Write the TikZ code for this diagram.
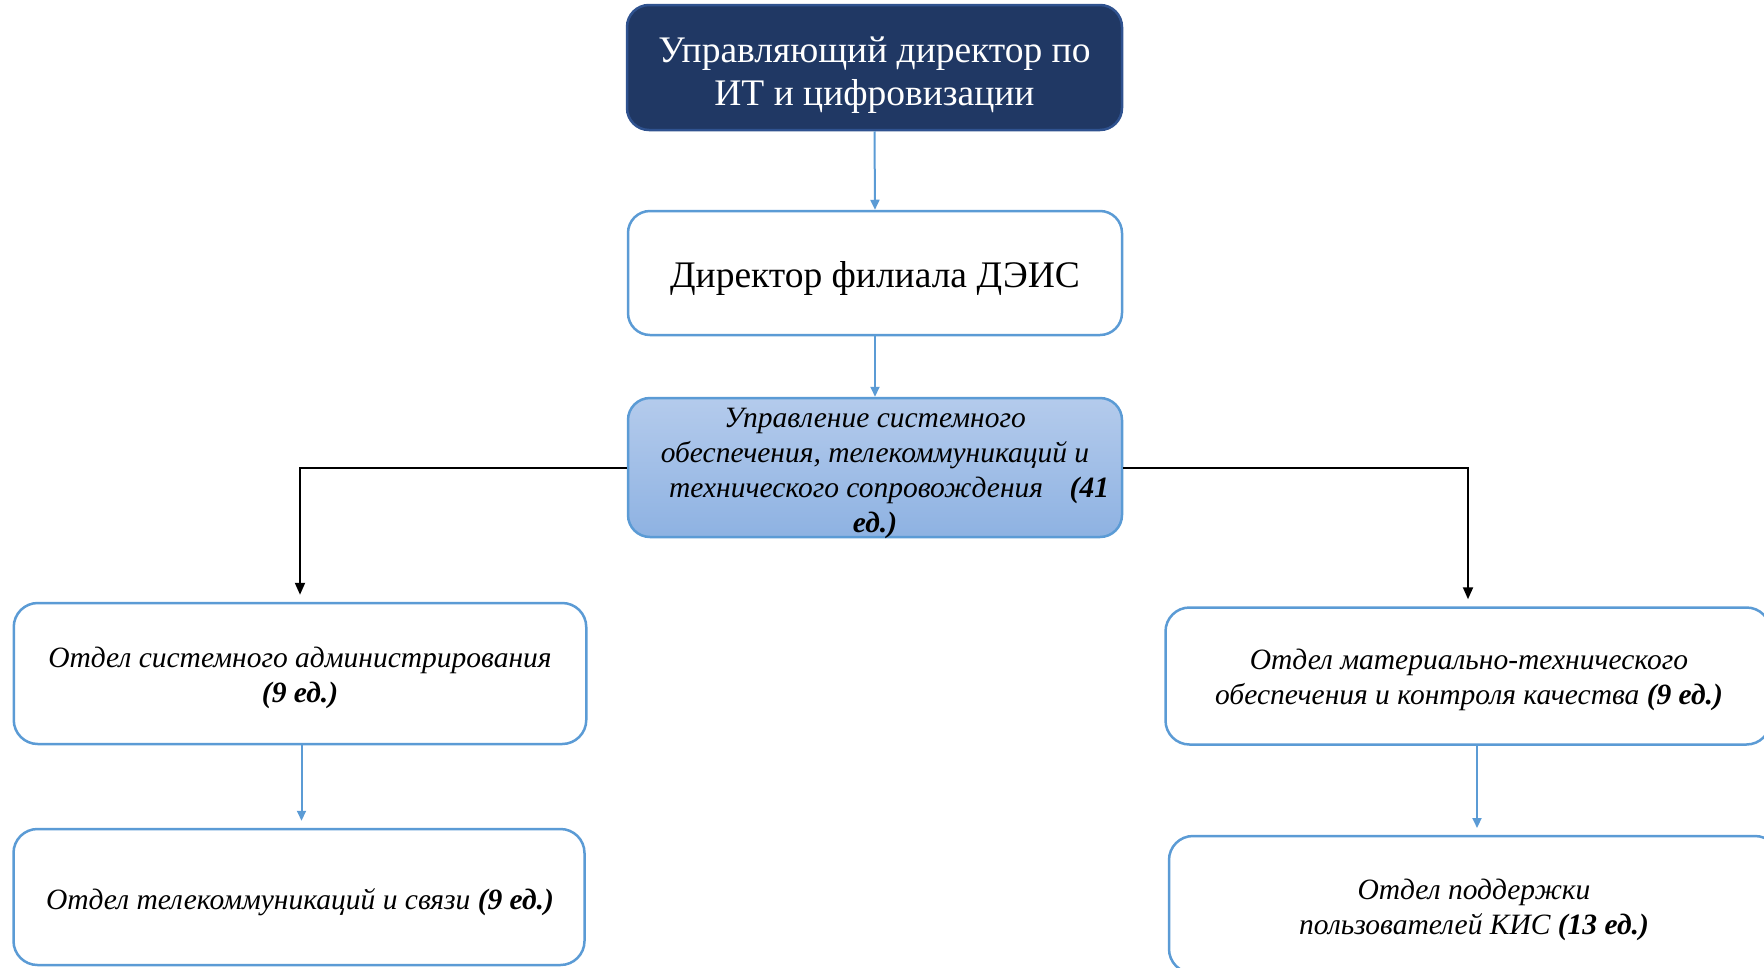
\documentclass[tikz,border=0pt]{standalone}
\usepackage{fontspec}
\setmainfont{Liberation Serif}
\usetikzlibrary{arrows.meta}
\definecolor{navy}{RGB}{32,56,100}
\definecolor{navyedge}{RGB}{47,82,143}
\definecolor{boxblue}{RGB}{91,155,213}
\definecolor{shadetop}{RGB}{180,203,236}
\definecolor{shadebot}{RGB}{142,178,226}
\begin{document}
\begin{tikzpicture}[x=1pt,y=-1pt,
  box/.style={draw=boxblue, line width=2.5pt, rounded corners=24pt, inner sep=0pt, align=center, fill=white,
     font=\fontsize{29.5}{35}\selectfont\itshape},
  topbox/.style={draw=navyedge, fill=navy, line width=2.5pt, rounded corners=22pt, inner sep=0pt, align=center,
     text=white, font=\fontsize{37.5}{43}\selectfont},
  dirbox/.style={draw=boxblue, fill=white, line width=2.5pt, rounded corners=22pt, inner sep=0pt, align=center,
     font=\fontsize{37.5}{43}\selectfont},
  uprbox/.style={draw=boxblue, top color=shadetop, bottom color=shadebot, line width=2.5pt, rounded corners=22pt,
     inner sep=0pt, align=center, font=\fontsize{29.5}{35}\selectfont\itshape},
  tdown/.style={label={[inner sep=0pt, align=center, yshift=-#1]center:}},
  barrow/.style={draw=boxblue, line width=2pt, -{Triangle[width=9pt,length=10pt]}},
  karrow/.style={draw=black, line width=2pt, -{Triangle[width=10pt,length=12pt]}}
]
\useasboundingbox (0,0) rectangle (1764,967);

\node[topbox, minimum width=495pt, minimum height=125pt] (top) at (874.5,67.5) {};
\node[inner sep=0pt, align=center, text=white, font=\fontsize{37.5}{43}\selectfont] (topt) at (874.5,75)
  {Управляющий директор по\\ИТ и цифровизации};
\node[dirbox, minimum width=494pt, minimum height=124pt] (dir) at (875,273) {};
\node[inner sep=0pt, font=\fontsize{37.5}{43}\selectfont] (dirt) at (875,278) {Директор филиала ДЭИС};
\node[uprbox, minimum width=494pt, minimum height=139pt] (upr) at (875,467.5) {};
\node[inner sep=0pt, align=center, font=\fontsize{29.5}{35}\selectfont\itshape] (uprt) at (875,473)
  {Управление системного\\обеспечения, телекоммуникаций и\\\hspace*{28pt}технического сопровождения\hspace{0.9em}\textbf{(41}\\\textbf{ед.)}};

\node[box, minimum width=572.5pt, minimum height=141pt] (left1) at (300,673.5) {};
\node[inner sep=0pt, align=center, font=\fontsize{29.5}{35}\selectfont\itshape] (left1t) at (300,678)
  {Отдел системного администрирования\\\textbf{(9 ед.)}};
\node[box, minimum width=571pt, minimum height=136pt] (left2) at (299,897) {};
\node[inner sep=0pt, font=\fontsize{29.5}{35}\selectfont\itshape] (left2t) at (300,902)
  {Отдел телекоммуникаций и связи \textbf{(9 ед.)}};

\node[box, minimum width=605pt, minimum height=137pt] (right1) at (1468,676) {};
\node[inner sep=0pt, align=center, font=\fontsize{29.5}{35}\selectfont\itshape] (right1t) at (1469,679.5)
  {Отдел материально-технического\\обеспечения и контроля качества \textbf{(9 ед.)}};
\node[box, minimum width=610pt, minimum height=137pt] (right2) at (1474,904.5) {};
\node[inner sep=0pt, align=center, font=\fontsize{29.5}{35}\selectfont\itshape] (right2t) at (1474,909.5)
  {Отдел поддержки\\пользователей КИС \textbf{(13 ед.)}};

\coordinate (ra) at (1477,746);
\coordinate (rb) at (1477,836);

\draw[barrow] (top.south) -- (dir.north);
\draw[barrow] (dir.south) -- (upr.north);
\draw[karrow, shorten >=7pt] (upr.west) -| (left1.north);
\draw[karrow, shorten >=7pt] (upr.east) -| (right1.north);
\draw[barrow, shorten >=7pt] ([xshift=1.5pt]left1.south) -- ([xshift=2.5pt]left2.north);
\draw[barrow, shorten >=8pt] (ra) -- (rb);
\end{tikzpicture}
\end{document}
